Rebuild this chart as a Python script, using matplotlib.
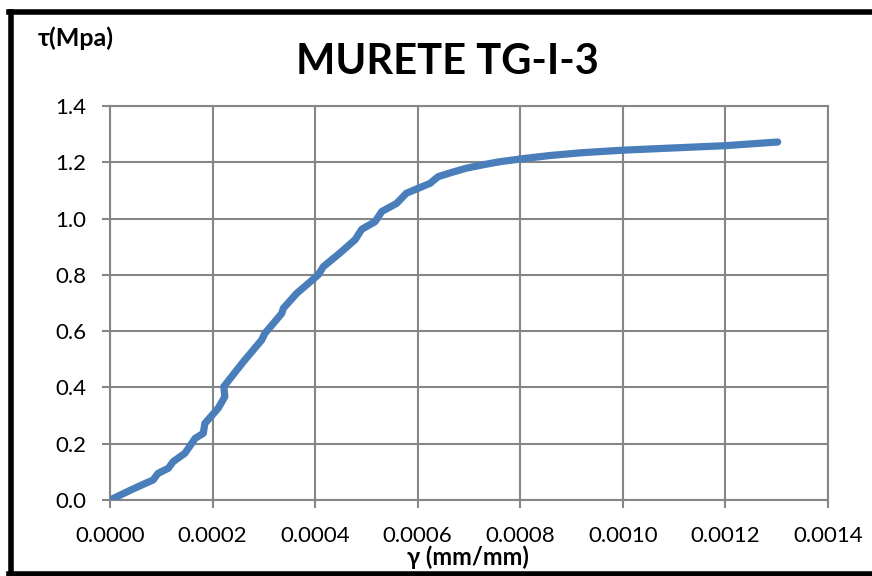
import matplotlib
matplotlib.use("Agg")
import matplotlib.pyplot as plt
from matplotlib.lines import Line2D

plt.rcParams['font.family'] = ['Lato', 'DejaVu Sans']

# shear strain (mm/mm) and shear stress (MPa)
gamma = [0.0, 0.000040, 0.000070, 0.000084, 0.000094, 0.000114, 0.000123,
         0.000146, 0.000153, 0.000166, 0.000182, 0.000185, 0.000211,
         0.000224, 0.000222, 0.000260, 0.000296, 0.000302, 0.000335,
         0.000338, 0.000364, 0.000387, 0.000406, 0.000416, 0.000448,
         0.000478, 0.000491, 0.000517, 0.000530, 0.000559, 0.000578,
         0.000624, 0.000640, 0.000670, 0.000695, 0.000730, 0.000760,
         0.000810, 0.000858, 0.000920, 0.001000, 0.001100, 0.001200,
         0.001302]
tau = [0.0, 0.035, 0.060, 0.071, 0.095, 0.113, 0.136,
       0.166, 0.184, 0.219, 0.237, 0.272, 0.326,
       0.367, 0.403, 0.491, 0.569, 0.592, 0.663,
       0.681, 0.734, 0.770, 0.800, 0.829, 0.877,
       0.925, 0.962, 0.989, 1.025, 1.054, 1.090,
       1.125, 1.149, 1.166, 1.179, 1.192, 1.202,
       1.214, 1.224, 1.234, 1.243, 1.251, 1.259,
       1.272]

x_ticks = [0.0, 0.0002, 0.0004, 0.0006, 0.0008, 0.0010, 0.0012, 0.0014]
y_ticks = [0.0, 0.2, 0.4, 0.6, 0.8, 1.0, 1.2, 1.4]

fig = plt.figure(figsize=(8.72, 5.76), dpi=100)
ax = fig.add_axes([0.1261, 0.1319, 0.8234, 0.6841])

ax.plot(gamma, tau, color='#4A7EBB', lw=5.2, solid_capstyle='round',
        solid_joinstyle='round', zorder=3)

ax.set_xlim(0, 0.0014)
ax.set_ylim(0, 1.4)
ax.set_xticks(x_ticks)
ax.set_yticks(y_ticks)
ax.set_xticklabels([f"{v:.4f}" for v in x_ticks])
ax.set_yticklabels([f"{v:.1f}" for v in y_ticks])
ax.grid(True, color='#868686', lw=1.5)
ax.set_axisbelow(True)
for s in ax.spines.values():
    s.set_color('#868686')
    s.set_linewidth(1.5)
ax.tick_params(colors='#868686', width=1.5, length=6, labelcolor='black',
               labelsize=16)
ax.tick_params(axis='x', pad=13)
ax.tick_params(axis='y', pad=11)

fig.text(0.513, 0.893, 'MURETE TG-I-3', ha='center', va='center',
         fontsize=30, fontweight='bold')
fig.text(0.043, 0.933, 'τ(Mpa)', ha='left', va='center',
         fontsize=18, fontweight='bold')
fig.text(0.537, 0.033, 'γ (mm/mm)', ha='center', va='center',
         fontsize=17, fontweight='bold')

# outer black frame of the chart
lw = 4
fig.add_artist(Line2D([11/872, 11/872], [0, 1 - 11.5/576], color='black', lw=lw,
                      transform=fig.transFigure))
fig.add_artist(Line2D([9/872, 1], [1 - 11.5/576, 1 - 11.5/576], color='black', lw=lw,
                      transform=fig.transFigure))
fig.add_artist(Line2D([9/872, 1], [2/576, 2/576], color='black', lw=lw,
                      transform=fig.transFigure))

fig.savefig('out.png', dpi=100)
